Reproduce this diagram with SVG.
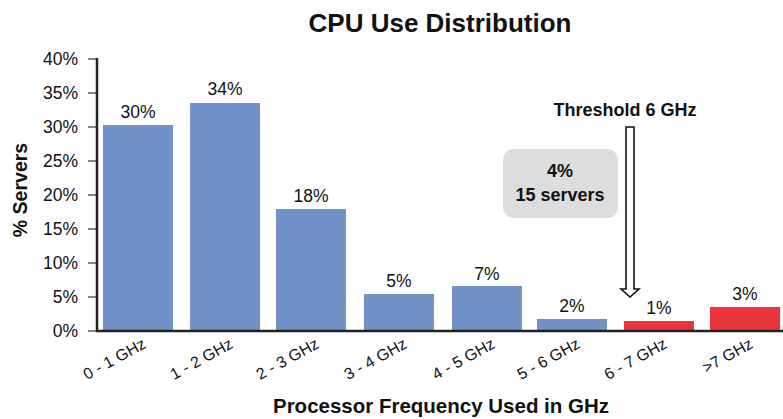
<svg xmlns="http://www.w3.org/2000/svg" width="783" height="419" viewBox="0 0 783 419">
<style>
text{font-family:"Liberation Sans",Arial,sans-serif;fill:#111}
.b{font-weight:bold}
.tick{font-size:17.5px;text-anchor:end}
.val{font-size:17.5px;text-anchor:middle}
.xl{font-size:16px;text-anchor:end}
.blue{fill:#7092c8}
.red{fill:#e8353b}
.ax{stroke:#222;stroke-width:2.5;fill:none}
.tk{stroke:#333;stroke-width:1.2}
</style>
<rect width="783" height="419" fill="#fff"/>
<text x="440" y="32" class="b" font-size="26" text-anchor="middle">CPU Use Distribution</text>
<g id="yaxis">
<line class="tk" x1="88" y1="59" x2="97" y2="59"/>
<line class="tk" x1="88" y1="93" x2="97" y2="93"/>
<line class="tk" x1="88" y1="127" x2="97" y2="127"/>
<line class="tk" x1="88" y1="161" x2="97" y2="161"/>
<line class="tk" x1="88" y1="195" x2="97" y2="195"/>
<line class="tk" x1="88" y1="229" x2="97" y2="229"/>
<line class="tk" x1="88" y1="263" x2="97" y2="263"/>
<line class="tk" x1="88" y1="297" x2="97" y2="297"/>
<line class="tk" x1="88" y1="331" x2="97" y2="331"/>
<text class="tick" x="78" y="65">40%</text>
<text class="tick" x="78" y="99">35%</text>
<text class="tick" x="78" y="133">30%</text>
<text class="tick" x="78" y="167">25%</text>
<text class="tick" x="78" y="201">20%</text>
<text class="tick" x="78" y="235">15%</text>
<text class="tick" x="78" y="269">10%</text>
<text class="tick" x="78" y="303">5%</text>
<text class="tick" x="78" y="337">0%</text>
<text class="b" font-size="19.5" text-anchor="middle" transform="translate(27,190) rotate(-90)">% Servers</text>
</g>
<g id="bars">
<rect class="blue" x="103" y="125" width="70" height="206"/>
<rect class="blue" x="190" y="103" width="70" height="228"/>
<rect class="blue" x="276" y="209" width="70" height="122"/>
<rect class="blue" x="364" y="294" width="70" height="37"/>
<rect class="blue" x="452" y="286" width="70" height="45"/>
<rect class="blue" x="537" y="319" width="70" height="12"/>
<rect class="red" x="624" y="321" width="70" height="10"/>
<rect class="red" x="710" y="307" width="70" height="24"/>
</g>
<g id="values">
<text class="val" x="138" y="118">30%</text>
<text class="val" x="225" y="95">34%</text>
<text class="val" x="311" y="202">18%</text>
<text class="val" x="399" y="287">5%</text>
<text class="val" x="487" y="280">7%</text>
<text class="val" x="572" y="312">2%</text>
<text class="val" x="659" y="314">1%</text>
<text class="val" x="745" y="300">3%</text>
</g>
<g id="axes">
<line class="ax" x1="97" y1="58" x2="97" y2="332"/>
<line class="ax" x1="96" y1="331" x2="783" y2="331"/>
</g>
<g id="xlabels">
<text class="xl" transform="translate(147,347) rotate(-29)">0 - 1 GHz</text>
<text class="xl" transform="translate(234,347) rotate(-29)">1 - 2 GHz</text>
<text class="xl" transform="translate(320,347) rotate(-29)">2 - 3 GHz</text>
<text class="xl" transform="translate(408,347) rotate(-29)">3 - 4 GHz</text>
<text class="xl" transform="translate(496,347) rotate(-29)">4 - 5 GHz</text>
<text class="xl" transform="translate(581,347) rotate(-29)">5 - 6 GHz</text>
<text class="xl" transform="translate(668,347) rotate(-29)">6 - 7 GHz</text>
<text class="xl" transform="translate(754,347) rotate(-29)">&gt;7 GHz</text>
</g>
<text x="441" y="413" class="b" font-size="20.5" text-anchor="middle">Processor Frequency Used in GHz</text>
<g id="threshold">
<text x="625" y="116" class="b" font-size="18" text-anchor="middle">Threshold 6 GHz</text>
<path d="M626,127 H634 V289 H639 L630,297 L621,289 H626 Z" fill="#fff" stroke="#111" stroke-width="1.6" stroke-linejoin="miter"/>
</g>
<g id="callout">
<rect x="503" y="149" width="115" height="69" rx="11" fill="#dcdddf"/>
<text x="560" y="177" class="b" font-size="18" text-anchor="middle">4%</text>
<text x="560" y="201" class="b" font-size="18" text-anchor="middle">15 servers</text>
</g>
</svg>
